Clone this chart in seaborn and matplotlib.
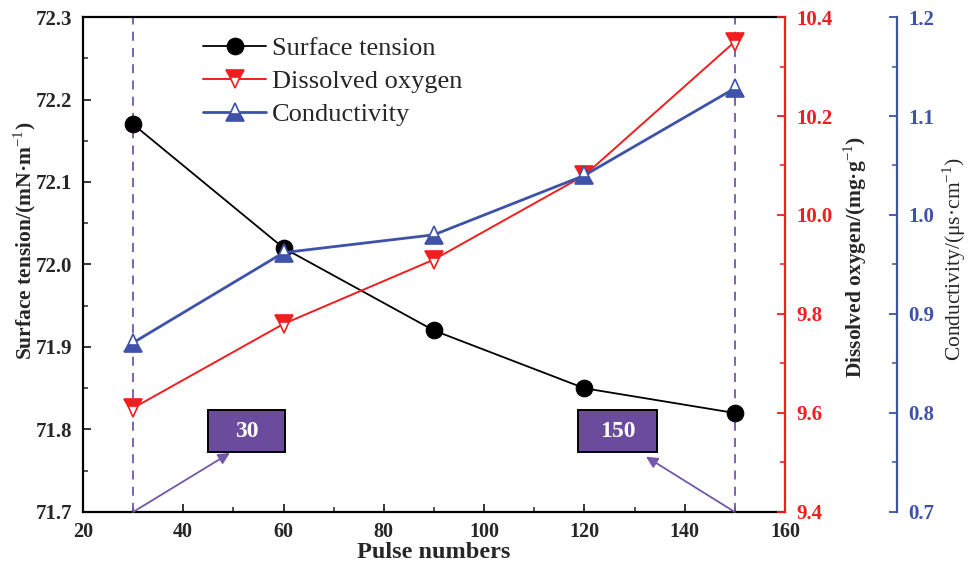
import matplotlib
matplotlib.use('Agg')
import matplotlib.pyplot as plt
import seaborn as sns
from matplotlib.patches import Rectangle
from matplotlib.ticker import MultipleLocator, FormatStrFormatter

# Data
pulses = [30, 60, 90, 120, 150]
surface_tension = [72.17, 72.02, 71.92, 71.85, 71.82]
dissolved_oxygen = [9.61, 9.78, 9.91, 10.08, 10.35]
conductivity = [0.871, 0.962, 0.980, 1.04, 1.128]
marked_pulses = [30, 150]
box_labels = ['30', '150']

sns.set_style('ticks')
plt.rcParams['font.family'] = ['Liberation Serif', 'DejaVu Serif']
plt.rcParams['mathtext.fontset'] = 'custom'
plt.rcParams['mathtext.rm'] = 'Liberation Serif'
plt.rcParams['mathtext.bf'] = 'Liberation Serif:bold'

RED = '#f01e1e'
BLUE = '#3d52a8'
PURPLE = '#7357a8'
BOX = '#6a4b9e'

fig = plt.figure(figsize=(9.68, 5.63), dpi=100)
ax = fig.add_axes([0.0857, 0.0906, 0.7252, 0.8792])
ax2 = ax.twinx()
ax3 = ax.twinx()
ax3.spines['right'].set_position(('axes', 1.1595))

# vertical dashed markers
for p in marked_pulses:
    ax.axvline(p, color=PURPLE, ls='--', lw=1.3, dashes=(5, 4), zorder=1)

sns.lineplot(x=pulses, y=surface_tension, ax=ax, color='black', lw=1.3,
             marker='o', markersize=12, markeredgecolor='black',
             markerfacecolor='black', label='Surface tension', legend=False)
sns.lineplot(x=pulses, y=dissolved_oxygen, ax=ax2, color=RED, lw=1.4,
             marker='v', markersize=13, markeredgecolor=RED, markeredgewidth=1.2,
             markerfacecolor=RED, fillstyle='top', markerfacecoloralt='white',
             label='Dissolved oxygen', legend=False)
sns.lineplot(x=pulses, y=conductivity, ax=ax3, color=BLUE, lw=2.0,
             marker='^', markersize=13, markeredgecolor=BLUE, markeredgewidth=1.2,
             markerfacecolor=BLUE, fillstyle='bottom', markerfacecoloralt='white',
             label='Conductivity', legend=False)

# axes ranges and ticks
ax.set_xlim(20, 160)
ax.set_ylim(71.7, 72.3)
ax2.set_ylim(9.4, 10.4)
ax3.set_ylim(0.7, 1.2)

ax.xaxis.set_major_locator(MultipleLocator(20))
ax.xaxis.set_minor_locator(MultipleLocator(10))
ax.yaxis.set_major_locator(MultipleLocator(0.1))
ax.yaxis.set_minor_locator(MultipleLocator(0.05))
ax.yaxis.set_major_formatter(FormatStrFormatter('%.1f'))
ax2.yaxis.set_major_locator(MultipleLocator(0.2))
ax2.yaxis.set_minor_locator(MultipleLocator(0.1))
ax2.yaxis.set_major_formatter(FormatStrFormatter('%.1f'))
ax3.yaxis.set_major_locator(MultipleLocator(0.1))
ax3.yaxis.set_minor_locator(MultipleLocator(0.05))
ax3.yaxis.set_major_formatter(FormatStrFormatter('%.1f'))

ax.tick_params(axis='both', which='major', direction='in', length=6, width=1.3,
               labelsize=15, top=False)
ax.tick_params(axis='both', which='minor', direction='in', length=3.5, width=1.1, top=False)
ax.tick_params(axis='y', which='major', pad=8)
ax.tick_params(axis='x', which='major', pad=7.5, labelsize=14.5)
for lab in ax.get_xticklabels() + ax.get_yticklabels():
    lab.set_fontweight('bold')

for a, c in [(ax2, RED), (ax3, BLUE)]:
    a.tick_params(axis='y', which='major', direction='in', length=6, width=1.3,
                  colors=c, labelsize=15, pad=8.5)
    a.tick_params(axis='y', which='minor', direction='in', length=3.5, width=1.1, colors=c)
    for lab in a.get_yticklabels():
        lab.set_fontweight('bold')
    a.spines['right'].set_color(c)
    a.spines['right'].set_linewidth(1.6)
    for s in ['left', 'top', 'bottom']:
        a.spines[s].set_visible(False)

for s in ['left', 'top', 'bottom']:
    ax.spines[s].set_linewidth(1.6)
    ax.spines[s].set_color('black')
ax.spines['right'].set_visible(False)

# axis labels
ax.set_xlabel('Pulse numbers', fontsize=17.5, fontweight='bold')
ax.xaxis.set_label_coords(0.5, -0.061)
ax.set_ylabel('Surface tension/(mN·m$^{-1}$)', fontsize=15.5, fontweight='bold')
ax.yaxis.set_label_coords(-0.064, 0.547)
ax2.set_ylabel('Dissolved oxygen/(mg·g$^{-1}$)', fontsize=15.5, fontweight='bold')
ax2.yaxis.set_label_coords(1.081, 0.515)
ax3.set_ylabel('Conductivity/(μs·cm$^{-1}$)', fontsize=15.5)
ax3.yaxis.set_label_coords(1.222, 0.511)

# annotation boxes with arrows
box_x = [(44.9, 60.3), (118.7, 134.5)]
box_y = (71.7727, 71.8236)
arrow_heads = [(49.3, 71.7715), (132.3, 71.767)]
for p, lbl, bx, head in zip(marked_pulses, box_labels, box_x, arrow_heads):
    ax.add_patch(Rectangle((bx[0], box_y[0]), bx[1] - bx[0], box_y[1] - box_y[0],
                           facecolor=BOX, edgecolor='black', lw=1.4, zorder=5))
    ax.text((bx[0] + bx[1]) / 2, (box_y[0] + box_y[1]) / 2, lbl, ha='center',
            va='center', color='white', fontsize=17, fontweight='bold', zorder=6)
    ax.annotate('', xy=head, xytext=(p, 71.7),
                arrowprops=dict(arrowstyle='-|>', color=PURPLE, lw=1.3,
                                mutation_scale=17, shrinkA=0, shrinkB=0),
                zorder=4)

# legend
wanted = ('Surface tension', 'Dissolved oxygen', 'Conductivity')
handles = [h for h in ax.get_lines() + ax2.get_lines() + ax3.get_lines()
           if h.get_label() in wanted]
ax.legend(handles=handles, loc='upper left', bbox_to_anchor=(0.156, 0.982),
          borderaxespad=0, frameon=False, fontsize=19, handlelength=2.4,
          labelspacing=0.36, handletextpad=0.2)

fig.savefig('out.png', dpi=100)
